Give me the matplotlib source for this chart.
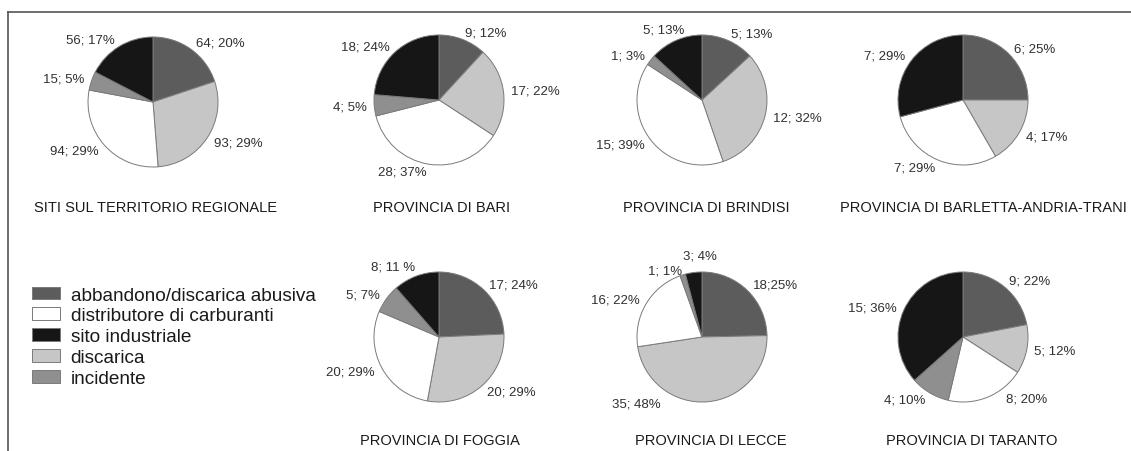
import matplotlib
matplotlib.use("Agg")
import matplotlib.pyplot as plt
from matplotlib.patches import Patch
from matplotlib.lines import Line2D

plt.rcParams['font.family'] = ['Liberation Sans', 'DejaVu Sans']

# ---------------- data ----------------
categories = ["abbandono/discarica abusiva", "discarica", "distributore di carburanti",
              "incidente", "sito industriale"]
legend_order = ["abbandono/discarica abusiva", "distributore di carburanti",
                "sito industriale", "discarica", "incidente"]

titles = ["SITI SUL TERRITORIO REGIONALE", "PROVINCIA DI BARI", "PROVINCIA DI BRINDISI",
          "PROVINCIA DI BARLETTA-ANDRIA-TRANI", "PROVINCIA DI FOGGIA",
          "PROVINCIA DI LECCE", "PROVINCIA DI TARANTO"]

regionale = [64, 93, 94, 15, 56]
bari      = [9, 17, 28, 4, 18]
brindisi  = [5, 12, 15, 1, 5]
bat       = [6, 4, 7, 0, 7]
foggia    = [17, 20, 20, 5, 8]
lecce     = [18, 35, 16, 1, 3]
taranto   = [9, 5, 8, 4, 15]

labels_regionale = ["64; 20%", "93; 29%", "94; 29%", "15; 5%", "56; 17%"]
labels_bari      = ["9; 12%", "17; 22%", "28; 37%", "4; 5%", "18; 24%"]
labels_brindisi  = ["5; 13%", "12; 32%", "15; 39%", "1; 3%", "5; 13%"]
labels_bat       = ["6; 25%", "4; 17%", "7; 29%", "", "7; 29%"]
labels_foggia    = ["17; 24%", "20; 29%", "20; 29%", "5; 7%", "8; 11 %"]
labels_lecce     = ["18;25%", "35; 48%", "16; 22%", "1; 1%", "3; 4%"]
labels_taranto   = ["9; 22%", "5; 12%", "8; 20%", "4; 10%", "15; 36%"]

# ---------------- style ----------------
colors = {
    "abbandono/discarica abusiva": "#5c5c5c",
    "discarica": "#c6c6c6",
    "distributore di carburanti": "#ffffff",
    "incidente": "#8f8f8f",
    "sito industriale": "#161616",
}
W, H = 1131, 452
R = 65
centers = [(153, 103), (439, 101), (702, 101), (963, 101),
           (439, 338), (702, 338), (963, 338)]
title_pos = [(155, 208), (442, 208), (706, 208), (983, 208),
             (440, 441), (711, 441), (972, 441)]
# label nudges in pixels (pie index, slice index) -> (dx, dy, ha)
nudges = {(5, 4): (24, -9, None), (5, 3): (2, 3, None), (2, 4): (12, -4, None),
          (6, 2): (16, -6, None), (4, 4): (2, -2, None), (5, 1): (-48, -6, "right")}

datasets = [regionale, bari, brindisi, bat, foggia, lecce, taranto]
labelsets = [labels_regionale, labels_bari, labels_brindisi, labels_bat,
             labels_foggia, labels_lecce, labels_taranto]

fig = plt.figure(figsize=(W / 100, H / 100), dpi=100)
fig.patch.set_facecolor("white")

for i, (vals, labs) in enumerate(zip(datasets, labelsets)):
    cx, cy = centers[i]
    ax = fig.add_axes([(cx - R) / W, (H - cy - R) / H, 2 * R / W, 2 * R / H])
    v = [x for x in vals if x > 0]
    l = [lb for x, lb in zip(vals, labs) if x > 0]
    idx = [k for k, x in enumerate(vals) if x > 0]
    c = [colors[categories[k]] for k in idx]
    wedges, texts = ax.pie(v, labels=l, colors=c, startangle=90, counterclock=False,
                           labeldistance=1.12, radius=1.0,
                           wedgeprops=dict(edgecolor="#7a7a7a", linewidth=0.7),
                           textprops=dict(fontsize=9.5, color="#303030"))
    for t, k in zip(texts, idx):
        if (i, k) in nudges:
            dx, dy, ha = nudges[(i, k)]
            x, y = t.get_position()
            t.set_position((x + dx / R, y - dy / R))
            if ha:
                t.set_ha(ha)
    ax.set_xlim(-1, 1)
    ax.set_ylim(-1, 1)
    ax.set_aspect("equal")
    tx, ty = title_pos[i]
    fig.text(tx / W, 1 - ty / H, titles[i], ha="center", va="center",
             fontsize=10.5, color="#1a1a1a")

handles = [Patch(facecolor=colors[n], edgecolor="#7a7a7a", linewidth=0.7) for n in legend_order]
fig.legend(handles, legend_order, loc="upper left",
           bbox_to_anchor=(24 / W, 1 - 280 / H), frameon=False,
           fontsize=13.7, handlelength=1.5, handleheight=0.65, handletextpad=0.55,
           labelspacing=0.2, borderaxespad=0, labelcolor="#1a1a1a")

# frame lines
fig.add_artist(Line2D([8 / W, 1.0], [1 - 13 / H, 1 - 13 / H], color="#555555",
                      linewidth=1.2, transform=fig.transFigure))
fig.add_artist(Line2D([8 / W, 8 / W], [1 - 13 / H, 0], color="#555555",
                      linewidth=1.2, transform=fig.transFigure))

fig.savefig("out.png", dpi=100, facecolor="white")
